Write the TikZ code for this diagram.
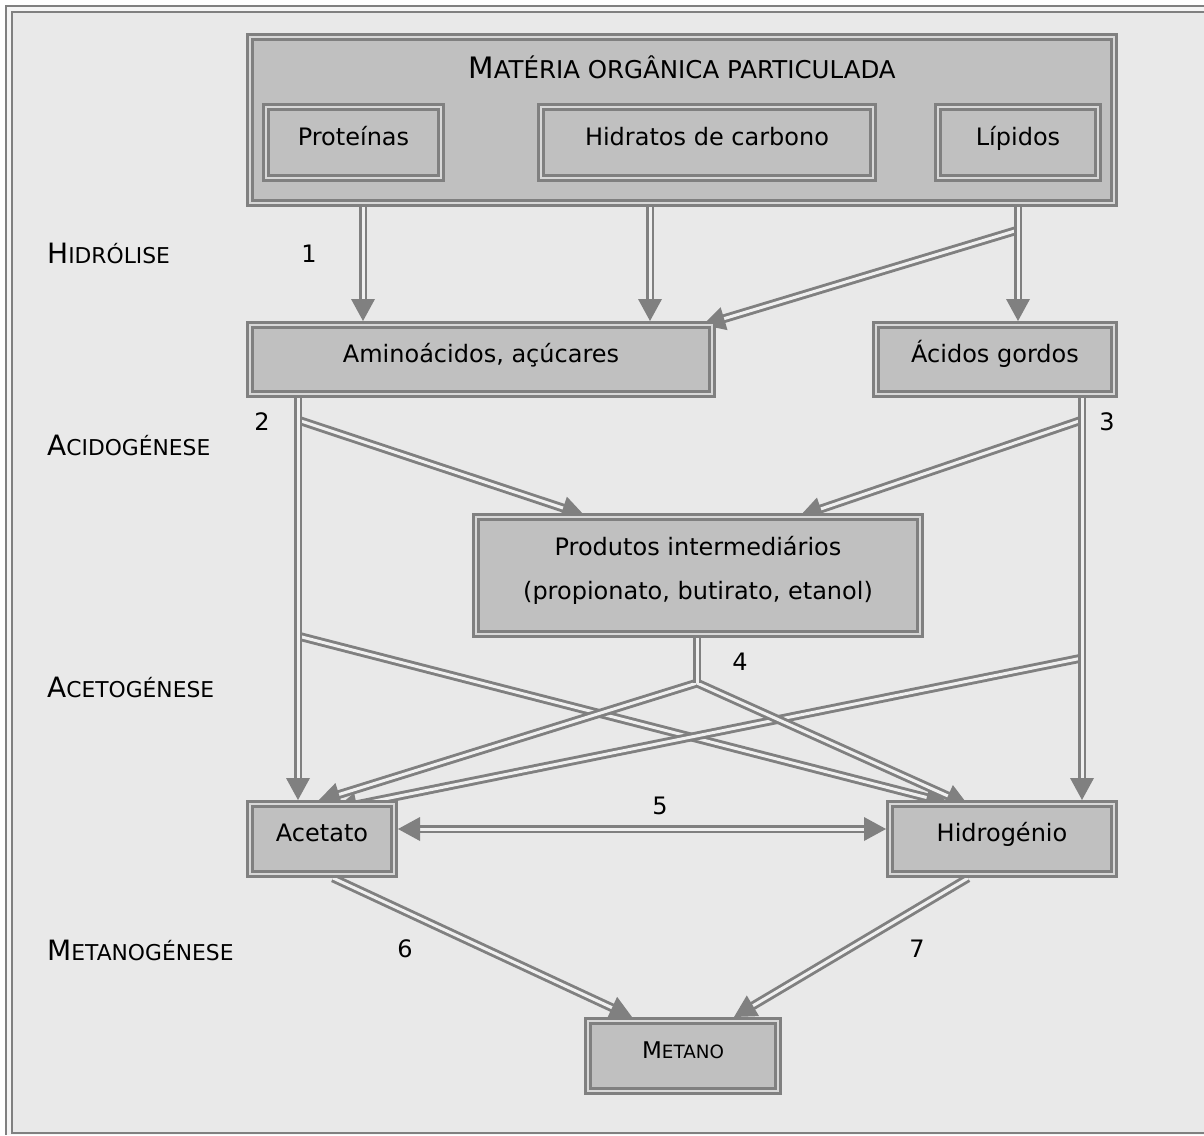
\documentclass[tikz,border=0pt]{standalone}
\usepackage{fontspec}
\setmainfont{DejaVu Sans}
\usetikzlibrary{calc}
\definecolor{bgc}{HTML}{E9E9E9}
\definecolor{boxc}{HTML}{C0C0C0}
\definecolor{lnc}{HTML}{808080}
\definecolor{gapb}{HTML}{D8D8D8}
\definecolor{gapa}{HTML}{F0F0F0}
\newcommand{\capsT}[2]{{\fontsize{29.5}{32}\selectfont #1}{\fontsize{24.5}{28}\selectfont #2}}
\newcommand{\capsS}[2]{{\fontsize{28}{32}\selectfont #1}{\fontsize{21.8}{24}\selectfont #2}}
\newcommand{\capsM}[2]{{\fontsize{23}{26}\selectfont #1}{\fontsize{18.3}{22}\selectfont #2}}
\newcommand{\myconn}[2]{%
  \draw[dline, shorten >=14pt] (#1) -- (#2);
  \path ($(#2)!22pt!(#1)$) coordinate (hb);
  \fill[lnc] (#2) -- ($(hb)!12pt!90:(#2)$) -- ($(hb)!12pt!-90:(#2)$) -- cycle;}
\newcommand{\myhead}[2]{%
  \path ($(#2)!22pt!(#1)$) coordinate (hb);
  \fill[lnc] (#2) -- ($(hb)!12pt!90:(#2)$) -- ($(hb)!12pt!-90:(#2)$) -- cycle;}
\pgfdeclarelayer{bgl}
\pgfdeclarelayer{conn}
\pgfsetlayers{bgl,conn,main}
\begin{document}
\begin{tikzpicture}[x=1pt,y=-1pt,
  box/.style={draw=lnc, line width=2.8pt, double=gapb, double distance=2.6pt, fill=boxc,
    inner sep=0pt, outer sep=0pt, text height=17.5pt, text depth=12pt,
    font=\fontsize{24}{28}\selectfont},
  dline/.style={draw=lnc, line width=2.9pt, double=gapa, double distance=3pt},
  num/.style={anchor=base, inner sep=0pt, font=\fontsize{24}{28}\selectfont},
  stage/.style={anchor=base west, inner sep=0pt},
  txt/.style={anchor=base, inner sep=0pt, font=\fontsize{24}{28}\selectfont}]
\useasboundingbox (0,0) rectangle (1204,1135);
\begin{pgfonlayer}{bgl}
  \fill[white] (0,0) rectangle (1204,1135);
  \fill[bgc] (13,13) rectangle (1204,1131.5);
  % frame (double line, right and bottom outer parts lie off the picture)
  \fill[lnc] (4.8,4.8) rectangle (1204,7.3);
  \fill[lnc] (4.8,4.8) rectangle (7.3,1135);
  \fill[white!92!gray] (7.3,7.3) rectangle (1204,10.5);
  \fill[white!92!gray] (7.3,7.3) rectangle (10.5,1135);
  \fill[lnc] (10.5,10.5) rectangle (1204,13);
  \fill[lnc] (10.5,10.5) rectangle (13,1134);
  \fill[lnc] (10.5,1131.5) rectangle (1204,1134);
  \fill[white!92!gray] (7.3,1134) rectangle (1204,1135);
\end{pgfonlayer}

% boxes
\node[box, minimum width=864pt, minimum height=166pt] (mat) at (682,120) {};
\node[txt] (matT) at (682,78) {\capsT{M}{ATÉRIA ORGÂNICA PARTICULADA}};
\node[box, minimum width=175pt, minimum height=71pt] (prot) at (353.5,142.5) {Proteínas};
\node[box, minimum width=332pt, minimum height=71pt] (hidc) at (707,142.5) {Hidratos de carbono};
\node[box, minimum width=160pt, minimum height=71pt] (lip) at (1018,142.5) {Lípidos};
\node[box, minimum width=462pt, minimum height=69pt] (amin) at (481,359.5) {Aminoácidos, açúcares};
\node[box, minimum width=238pt, minimum height=69pt] (acid) at (995,359.5) {Ácidos gordos};
\node[box, minimum width=444pt, minimum height=117pt] (prod) at (698,575.5) {};
\node[txt] (prodA) at (698,555) {Produtos intermediários};
\node[txt] (prodB) at (698,599) {(propionato, butirato, etanol)};
\node[box, minimum width=144pt, minimum height=70pt] (acet) at (322,839) {Acetato};
\node[box, minimum width=224pt, minimum height=70pt] (hidro) at (1002,839) {Hidrogénio};
\node[box, minimum width=190pt, minimum height=70pt] (met) at (683,1056) {\capsM{M}{ETANO}};

% stage labels
\node[stage] (s1) at (47,263) {\capsS{H}{IDRÓLISE}};
\node[stage] (s2) at (47,455) {\capsS{A}{CIDOGÉNESE}};
\node[stage] (s3) at (47,697) {\capsS{A}{CETOGÉNESE}};
\node[stage] (s4) at (47,960) {\capsS{M}{ETANOGÉNESE}};

% numbers
\node[num] (n1) at (309,262) {1};
\node[num] (n2) at (262,430) {2};
\node[num] (n3) at (1107,430) {3};
\node[num] (n4) at (740,670) {4};
\node[num] (n5) at (660,814) {5};
\node[num] (n6) at (405,957) {6};
\node[num] (n7) at (917,957) {7};

% coordinates
\coordinate (t1) at (363,321);   \coordinate (a1) at (mat.south -| t1);
\coordinate (t2) at (650,321);   \coordinate (a2) at (mat.south -| t2);
\coordinate (t3) at (1018,321);  \coordinate (a3) at (mat.south -| t3);
\coordinate (j1) at (1018,230);  \coordinate (t4) at (703,325);
\coordinate (t5) at (298,800);   \coordinate (a5) at (amin.south -| t5);
\coordinate (j2) at (298,420);   \coordinate (t6) at (584,515);
\coordinate (t7) at (1082,800);  \coordinate (a7) at (acid.south -| t7);
\coordinate (j3) at (1082,420);  \coordinate (t8) at (800,516);
\coordinate (j4) at (697,683);   \coordinate (a4) at (prod.south -| j4);
\coordinate (t9) at (318,801);   \coordinate (t10) at (968,805);
\coordinate (j5) at (298,636);   \coordinate (t11) at (948,803);
\coordinate (j6) at (1082,658);  \coordinate (t12) at (335,809);
\coordinate (t13) at (398,829);  \coordinate (t14) at (886,829);
\coordinate (s6) at (333,878);   \coordinate (t15) at (632,1017);
\coordinate (s7) at (968,878);   \coordinate (t16) at (734,1017);

\begin{pgfonlayer}{conn}
  % diagonals first
  \myconn{j1}{t4}
  \myconn{j2}{t6}
  \myconn{j3}{t8}
  \myconn{j5}{t11}
  \myconn{j6}{t12}
  \myconn{j4}{t9}
  \myconn{j4}{t10}
  % verticals
  \myconn{a1}{t1}
  \myconn{a2}{t2}
  \myconn{a3}{t3}
  \myconn{a5}{t5}
  \myconn{a7}{t7}
  \draw[dline] (a4) -- (j4);
  % double arrow 5
  \draw[dline, shorten >=14pt, shorten <=14pt] (t13) -- (t14);
  \myhead{t14}{t13}
  \myhead{t13}{t14}
  % methanogenesis
  \myconn{s6}{t15}
  \myconn{s7}{t16}
\end{pgfonlayer}
\end{tikzpicture}
\end{document}
